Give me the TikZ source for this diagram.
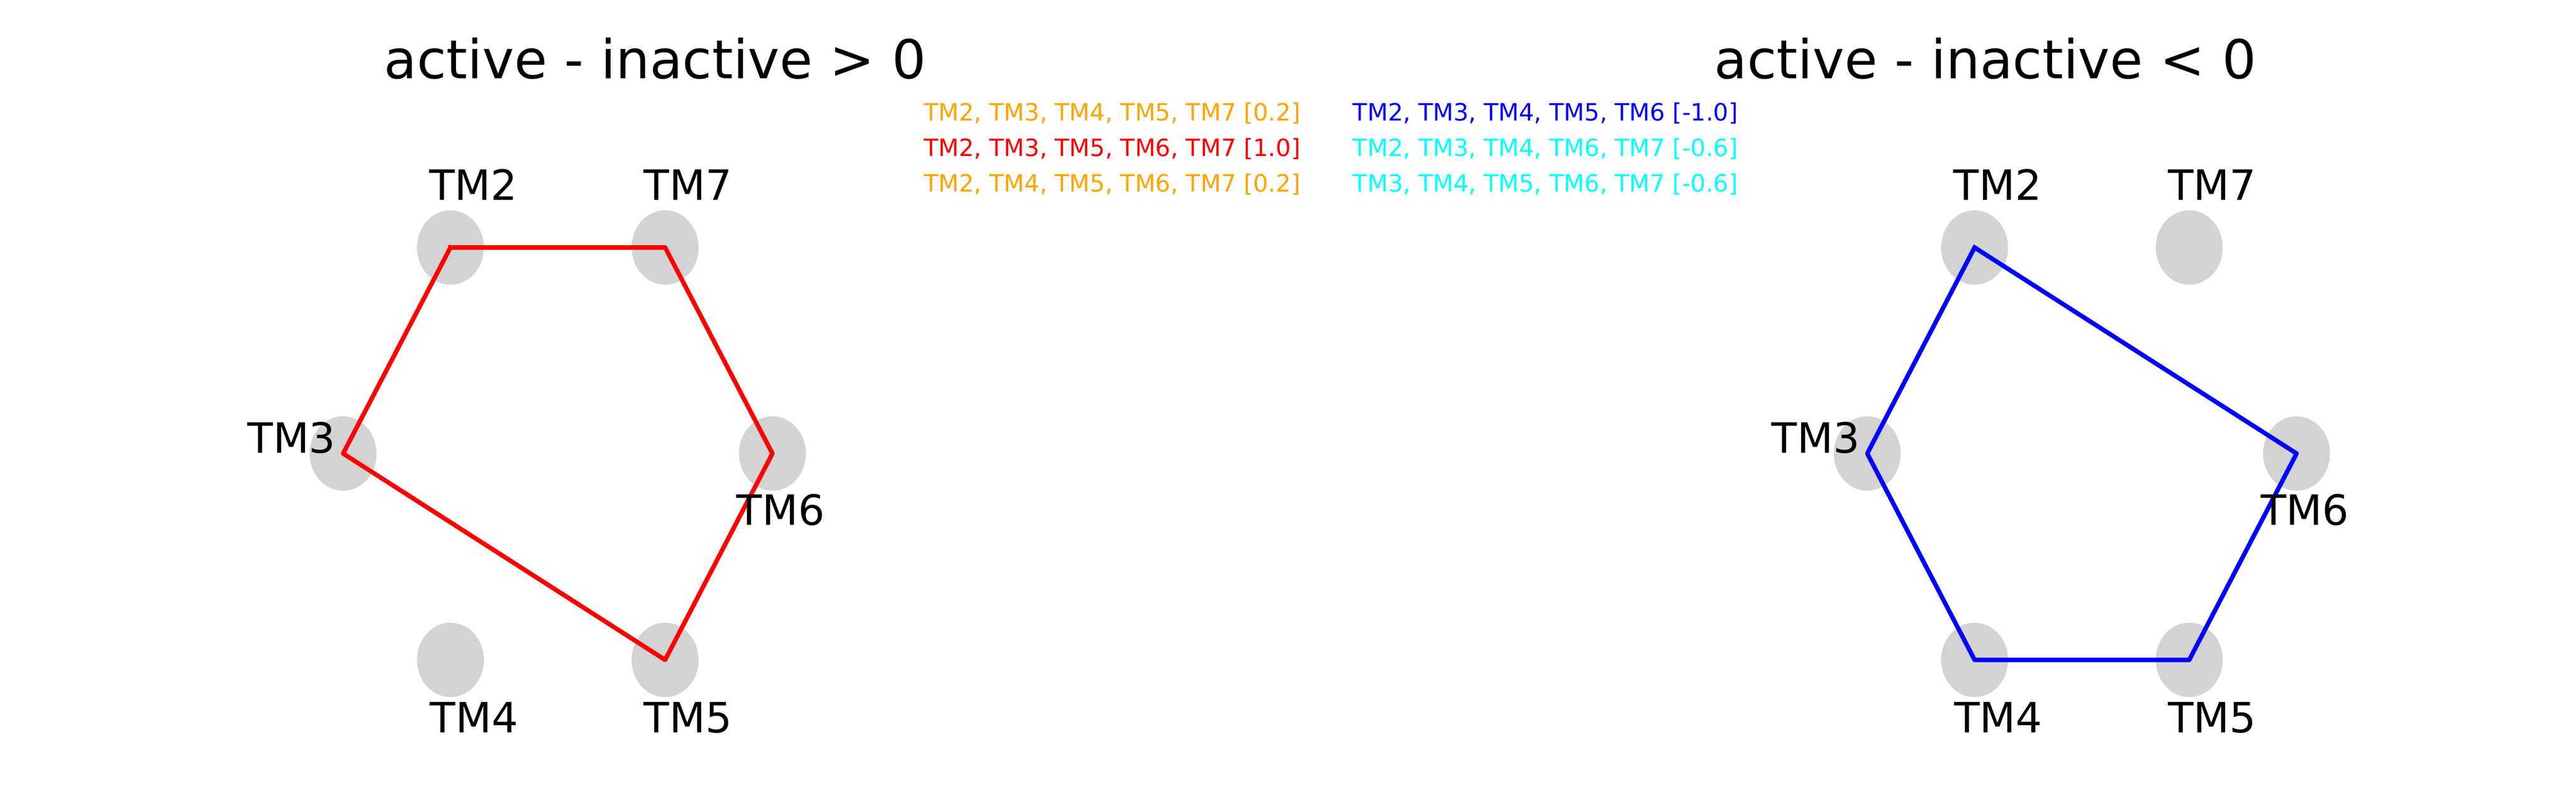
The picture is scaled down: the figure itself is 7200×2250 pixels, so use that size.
\documentclass[tikz,border=0pt]{standalone}
\usepackage{fontspec}
\setmainfont{DejaVu Sans}
\usetikzlibrary{shapes.geometric}
\definecolor{tmgray}{RGB}{211,211,211}
\definecolor{mplorange}{RGB}{255,165,0}
\definecolor{mplred}{RGB}{255,0,0}
\definecolor{mplblue}{RGB}{0,0,255}
\definecolor{mplcyan}{RGB}{0,255,255}
\tikzset{
  tmdot/.style={ellipse, fill=tmgray, draw=none, inner sep=0pt, minimum width=29.92pt, minimum height=33.28pt},
  tmlabel/.style={anchor=base, inner sep=0pt, font=\fontsize{18.67}{22}\selectfont},
  titletext/.style={anchor=base, inner sep=0pt, font=\fontsize{24}{28}\selectfont},
  legendtext/.style={anchor=base west, inner sep=0pt, font=\fontsize{10.67}{13}\selectfont},
  ringline/.style={line width=2pt, line cap=rect, line join=round}
}
\begin{document}
\begin{tikzpicture}[x=0.16pt, y=-0.16pt]
\fill[white] (0,0) rectangle (7200,2250);
\useasboundingbox (0,0) rectangle (7200,2250);

% titles
\node[titletext] (titleL) at (1831,220) {active - inactive > 0};
\node[titletext] (titleR) at (5549,220) {active - inactive < 0};

% legend texts
\node[legendtext, text=mplorange] (leg1) at (2581,337) {TM2, TM3, TM4, TM5, TM7 [0.2]};
\node[legendtext, text=mplred]    (leg2) at (2581,437) {TM2, TM3, TM5, TM6, TM7 [1.0]};
\node[legendtext, text=mplorange] (leg3) at (2581,537) {TM2, TM4, TM5, TM6, TM7 [0.2]};
\node[legendtext, text=mplblue]   (leg4) at (3780,337) {TM2, TM3, TM4, TM5, TM6 [-1.0]};
\node[legendtext, text=mplcyan]   (leg5) at (3780,437) {TM2, TM3, TM4, TM6, TM7 [-0.6]};
\node[legendtext, text=mplcyan]   (leg6) at (3780,537) {TM3, TM4, TM5, TM6, TM7 [-0.6]};

% left panel nodes
\node[tmdot] (L2) at (1259,692) {};
\node[tmdot] (L7) at (1859,692) {};
\node[tmdot] (L3) at (959,1268) {};
\node[tmdot] (L6) at (2159,1268) {};
\node[tmdot] (L4) at (1259,1845) {};
\node[tmdot] (L5) at (1859,1845) {};

% right panel nodes
\node[tmdot] (R2) at (5519,692) {};
\node[tmdot] (R7) at (6119,692) {};
\node[tmdot] (R3) at (5219,1268) {};
\node[tmdot] (R6) at (6419,1268) {};
\node[tmdot] (R4) at (5519,1845) {};
\node[tmdot] (R5) at (6119,1845) {};

% connectors
\draw[ringline, draw=mplred] (L2.center) -- (L7.center) -- (L6.center) -- (L5.center) -- (L3.center) -- (L2.center);
\draw[ringline, draw=mplblue] (R2.center) -- (R6.center) -- (R5.center) -- (R4.center) -- (R3.center) -- (R2.center);

% left labels
\node[tmlabel] (tL2) at (1323,560) {TM2};
\node[tmlabel] (tL7) at (1923,560) {TM7};
\node[tmlabel] (tL3) at (815,1267) {TM3};
\node[tmlabel] (tL6) at (2182,1468) {TM6};
\node[tmlabel] (tL4) at (1325,2048) {TM4};
\node[tmlabel] (tL5) at (1923,2048) {TM5};

% right labels
\node[tmlabel] (tR2) at (5583,560) {TM2};
\node[tmlabel] (tR7) at (6183,560) {TM7};
\node[tmlabel] (tR3) at (5075,1267) {TM3};
\node[tmlabel] (tR6) at (6442,1468) {TM6};
\node[tmlabel] (tR4) at (5585,2048) {TM4};
\node[tmlabel] (tR5) at (6183,2048) {TM5};
\end{tikzpicture}
\end{document}
